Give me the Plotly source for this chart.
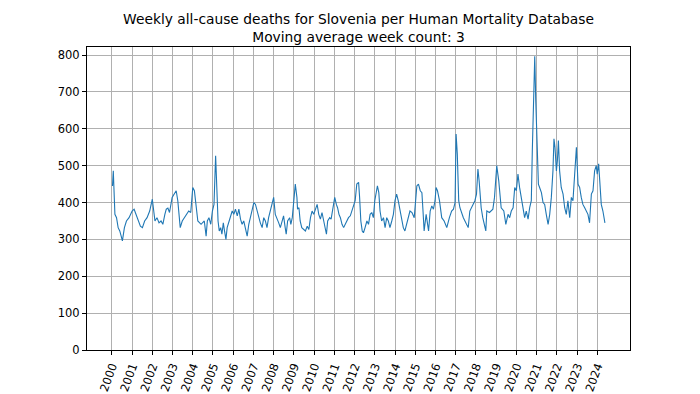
import plotly.graph_objects as go

# Time as decimal year, weekly deaths (3-week moving average)
years = [
    2000.03, 2000.07, 2000.15, 2000.23, 2000.31, 2000.39, 2000.46, 2000.52, 2000.62, 2000.72,
    2000.85, 2001.00, 2001.10, 2001.21, 2001.30, 2001.41, 2001.51, 2001.62, 2001.74, 2001.87,
    2002.00, 2002.07, 2002.13, 2002.23, 2002.33, 2002.43, 2002.52, 2002.62, 2002.69, 2002.77,
    2002.85, 2002.98, 2003.10, 2003.18, 2003.26, 2003.38, 2003.48, 2003.59, 2003.70, 2003.80,
    2003.90, 2004.00, 2004.08, 2004.16, 2004.25, 2004.41, 2004.57, 2004.66, 2004.72,
    2004.80, 2004.89, 2004.97, 2005.05, 2005.13, 2005.18, 2005.25, 2005.31, 2005.38, 2005.44,
    2005.51, 2005.57, 2005.64, 2005.70, 2005.79, 2005.87, 2005.95, 2006.03, 2006.11, 2006.20,
    2006.28, 2006.36, 2006.44, 2006.52, 2006.61, 2006.69, 2006.77, 2006.85, 2006.93, 2007.02,
    2007.10, 2007.18, 2007.26, 2007.34, 2007.43, 2007.51, 2007.59, 2007.67, 2007.75, 2007.84,
    2007.92, 2008.00, 2008.08, 2008.16, 2008.25, 2008.33, 2008.41, 2008.49, 2008.57, 2008.62,
    2008.69, 2008.79, 2008.85, 2008.92, 2008.98, 2009.07, 2009.15, 2009.18, 2009.25, 2009.31,
    2009.39, 2009.49, 2009.57, 2009.66, 2009.74, 2009.82, 2009.90, 2009.98, 2010.07, 2010.15,
    2010.23, 2010.31, 2010.39, 2010.48, 2010.56, 2010.61, 2010.67, 2010.77, 2010.84, 2010.90,
    2010.97, 2011.02, 2011.10, 2011.16, 2011.23, 2011.30, 2011.38, 2011.46, 2011.54, 2011.62,
    2011.70, 2011.79, 2011.87, 2011.95, 2012.03, 2012.11, 2012.20, 2012.25, 2012.31, 2012.38,
    2012.44, 2012.52, 2012.61, 2012.69, 2012.77, 2012.85, 2012.93, 2013.00, 2013.07, 2013.13,
    2013.20, 2013.26, 2013.34, 2013.43, 2013.51, 2013.59, 2013.67, 2013.75, 2013.84, 2013.92,
    2014.00, 2014.08, 2014.16, 2014.25, 2014.33, 2014.41, 2014.49, 2014.57, 2014.66, 2014.74,
    2014.84, 2014.95, 2015.08, 2015.16, 2015.25, 2015.33, 2015.38, 2015.44, 2015.54, 2015.66,
    2015.74, 2015.82, 2015.90, 2015.98, 2016.03, 2016.10, 2016.20, 2016.31, 2016.43, 2016.56,
    2016.69, 2016.80, 2016.89, 2016.97, 2017.02, 2017.08, 2017.15, 2017.21, 2017.38, 2017.54,
    2017.62, 2017.70, 2017.84, 2017.95, 2018.03, 2018.10, 2018.16, 2018.26, 2018.34, 2018.49,
    2018.54, 2018.67, 2018.84, 2018.92, 2019.03, 2019.13, 2019.25, 2019.38, 2019.48, 2019.59,
    2019.67, 2019.75, 2019.84, 2019.92, 2020.00, 2020.08, 2020.16, 2020.25, 2020.33, 2020.41,
    2020.49, 2020.58, 2020.66, 2020.74, 2020.79, 2020.86, 2020.91, 2020.96, 2021.02, 2021.09,
    2021.15, 2021.24, 2021.32, 2021.40, 2021.48, 2021.57, 2021.65, 2021.73, 2021.81, 2021.86,
    2021.91, 2021.98, 2022.03, 2022.08, 2022.14, 2022.22, 2022.31, 2022.39, 2022.47, 2022.55,
    2022.64, 2022.72, 2022.80, 2022.88, 2022.97, 2023.05, 2023.13, 2023.21, 2023.29, 2023.38,
    2023.46, 2023.54, 2023.62, 2023.71, 2023.79, 2023.87, 2023.95, 2024.00, 2024.07, 2024.12,
    2024.20, 2024.28, 2024.38,
]

deaths = [
    445, 486, 368, 359, 332, 323, 309, 296, 332, 350,
    359, 377, 382, 364, 350, 336, 332, 350, 359, 377,
    409, 377, 350, 359, 345, 350, 341, 368, 382, 385,
    373, 414, 427, 432, 405, 332, 350, 359, 368, 377,
    373, 441, 432, 386, 350, 341, 350, 309, 350,
    359, 341, 377, 395, 527, 441, 350, 323, 332, 314,
    345, 323, 300, 332, 350, 368, 377, 368, 382, 364,
    382, 355, 341, 350, 327, 309, 341, 359, 377, 400,
    395, 377, 364, 345, 332, 359, 350, 332, 359, 377,
    391, 414, 368, 359, 345, 332, 350, 364, 332, 314,
    350, 359, 341, 359, 395, 450, 414, 382, 386, 350,
    332, 327, 323, 336, 327, 359, 377, 368, 382, 395,
    368, 355, 373, 350, 332, 314, 350, 359, 355, 377,
    391, 414, 395, 386, 368, 359, 341, 332, 341, 350,
    359, 364, 377, 386, 405, 450, 455, 414, 350, 323,
    318, 332, 350, 341, 368, 373, 359, 405, 432, 445,
    427, 377, 350, 359, 332, 359, 350, 332, 350, 368,
    405, 423, 405, 377, 359, 332, 323, 341, 359, 377,
    373, 359, 445, 450, 432, 427, 382, 323, 368, 323,
    377, 391, 382, 405, 441, 432, 405, 359, 350, 332,
    359, 377, 382, 400, 586, 532, 405, 386, 359, 341,
    332, 377, 391, 405, 423, 491, 459, 386, 359, 323,
    377, 373, 382, 414, 500, 459, 386, 377, 341, 368,
    359, 377, 386, 441, 432, 477, 441, 414, 386, 359,
    377, 355, 386, 405, 541, 723, 797, 677, 541, 450,
    441, 427, 400, 395, 368, 341, 368, 414, 486, 573,
    550, 486, 514, 568, 486, 441, 423, 386, 368, 405,
    359, 414, 405, 468, 550, 450, 441, 414, 395, 386,
    377, 368, 345, 423, 432, 486, 500, 477, 505, 450,
    395, 377, 345,
]

tick_years = list(range(2000, 2025))
tick_labels = [str(y) for y in tick_years]
y_ticks = [0, 100, 200, 300, 400, 500, 600, 700, 800]

fig = go.Figure()
fig.add_trace(go.Scatter(
    x=years, y=deaths, mode="lines",
    line=dict(color="#1f77b4", width=1.1),
    showlegend=False, hoverinfo="x+y",
))

fig.update_layout(
    width=700, height=394,
    margin=dict(l=87, r=70, t=47, b=44),
    paper_bgcolor="white", plot_bgcolor="white",
    font=dict(family="DejaVu Sans", size=11.5, color="black"),
    title=dict(
        text="Weekly all-cause deaths for Slovenia per Human Mortality Database<br>Moving average week count: 3",
        x=0.5, xref="paper", xanchor="center",
        y=1 - 24 / 394, yref="container", yanchor="top",
        font=dict(family="DejaVu Sans", size=13.8, color="black"),
        automargin=False,
    ),
)

fig.update_xaxes(
    range=[1998.77, 2025.62],
    tickmode="array", tickvals=tick_years, ticktext=tick_labels,
    tickangle=-70, tickfont=dict(size=11.5),
    ticks="outside", ticklen=4, tickwidth=1, tickcolor="black",
    showgrid=True, gridcolor="#b0b0b0", gridwidth=0.8,
    showline=True, linecolor="black", linewidth=1, mirror=True,
    zeroline=False, automargin=False,
)
fig.update_yaxes(
    range=[0, 822],
    tickmode="array", tickvals=y_ticks,
    tickfont=dict(size=11.5),
    ticks="outside", ticklen=4, tickwidth=1, tickcolor="black",
    showgrid=True, gridcolor="#b0b0b0", gridwidth=0.8,
    showline=True, linecolor="black", linewidth=1, mirror=True,
    zeroline=False, automargin=False,
)

fig.write_html(
    "out.html",
    config={"displayModeBar": False},
    post_script="document.body.style.margin='0';document.body.style.padding='0';",
)
